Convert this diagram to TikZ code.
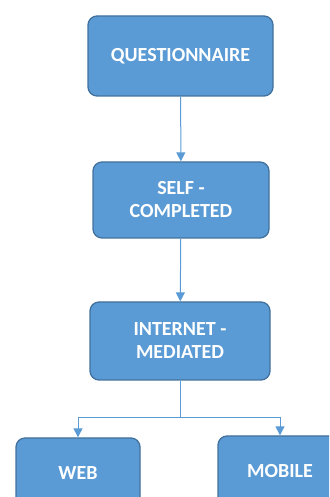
\documentclass[tikz,border=0pt]{standalone}
\usepackage{fontspec}
\setmainfont{Carlito}
\usetikzlibrary{arrows.meta}

\def\boxradius{9pt}
\definecolor{boxfill}{RGB}{91, 155, 213}
\definecolor{boxline}{RGB}{65, 113, 156}

\begin{document}
\begin{tikzpicture}[x=1pt, y=1pt,
    stage/.style={draw=boxline, fill=boxfill, line width=1.3pt, rounded corners=\boxradius, text=white,
        font=\fontsize{20}{23}\selectfont\bfseries, align=center, inner sep=0pt},
    arc/.style={draw=boxfill, line width=1pt, -{Triangle[width=9pt, length=9pt]}}
    ]

    \useasboundingbox (0,0) rectangle (329,497);
    \clip (0,0) rectangle (329,497);

    % Define stages
    \node[stage, minimum width=185pt, minimum height=80pt] (Q) at (180.5,441) {QUESTIONNAIRE};
    \node[stage, minimum width=176pt, minimum height=76pt] (S) at (181,297) {SELF -\\COMPLETED};
    \node[stage, minimum width=180pt, minimum height=78pt] (I) at (180,156) {INTERNET -\\MEDIATED};
    \node[stage, minimum width=124pt, minimum height=70pt] (W) at (78,24) {WEB};
    \node[stage, minimum width=124pt, minimum height=70pt] (M) at (280,26) {MOBILE};

    % Define edges
    \draw[arc] (Q) -- (S);
    \draw[arc] (S) -- (I);
    \coordinate (split) at ([yshift=-37pt]I.south);
    \foreach \leaf in {W,M}
        \draw[arc] (I.south) -- (split) -| (\leaf.north);
\end{tikzpicture}
\end{document}
